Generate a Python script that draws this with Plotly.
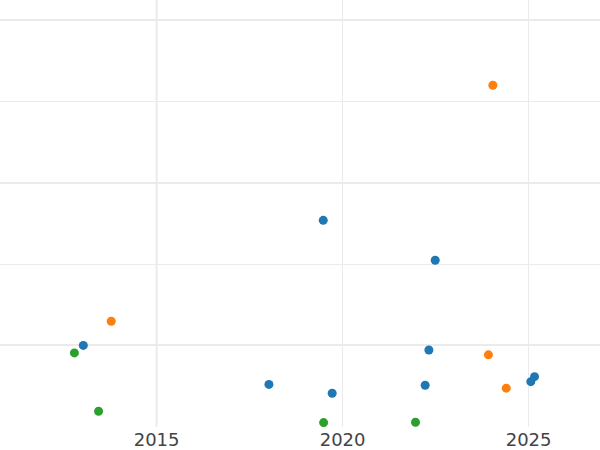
import plotly.graph_objects as go

# Data
series_names = ["A", "B", "C"]
colors = ["#1f77b4", "#ff7f0e", "#2ca02c"]

a_x = [2013.03, 2018.02, 2019.48, 2019.72, 2022.49, 2022.32, 2022.22, 2025.06, 2025.16]
a_y = [100, 76, 177, 70.6, 152.4, 97.2, 75.5, 77.7, 80.8]

b_x = [2013.78, 2024.04, 2023.92, 2024.40]
b_y = [114.9, 260.1, 94.2, 73.7]

c_x = [2012.79, 2013.44, 2019.49, 2021.96]
c_y = [95.4, 59.5, 52.5, 52.7]

x_ticks = [2015, 2020, 2025]
x_labels = ["2015", "2020", "2025"]

grid = "#ebebeb"

fig = go.Figure()
for name, xs, ys, col in zip(series_names, [a_x, b_x, c_x], [a_y, b_y, c_y], colors):
    fig.add_trace(go.Scatter(x=xs, y=ys, mode="markers", name=name,
                             marker=dict(color=col, size=9, line=dict(width=0))))

fig.add_vline(x=2015, line_width=2, line_color=grid, layer="below")

fig.update_layout(
    width=600, height=450,
    margin=dict(l=0, r=0, t=0, b=23),
    paper_bgcolor="white", plot_bgcolor="white",
    showlegend=False,
    font=dict(family="DejaVu Sans", size=18, color="#444"),
    xaxis=dict(range=[2010.79, 2026.92], tickvals=x_ticks, ticktext=x_labels,
               showgrid=True, gridcolor=grid, gridwidth=1, zeroline=False,
               showline=False, ticks="", automargin=False),
    yaxis=dict(range=[49.8, 312.6], dtick=100, tick0=0, showticklabels=False,
               showgrid=True, gridcolor=grid, gridwidth=2, zeroline=False,
               showline=False, ticks="", automargin=False,
               minor=dict(dtick=50, showgrid=True, gridcolor=grid, gridwidth=1)),
)

fig.write_html("out.html",
               config={"displayModeBar": False},
               post_script="document.body.style.margin='0';document.body.style.overflow='hidden';")
